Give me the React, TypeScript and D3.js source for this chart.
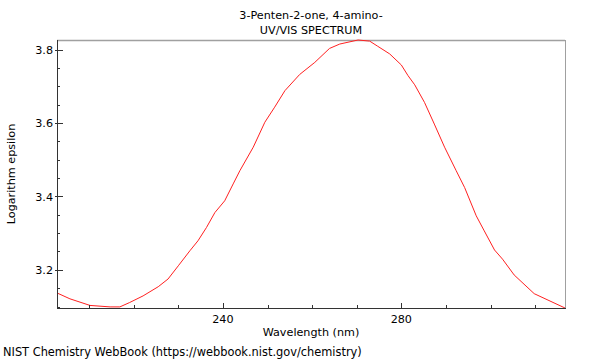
import React from "react";
import * as d3 from "d3";

const title1 = "3-Penten-2-one, 4-amino-";
const title2 = "UV/VIS SPECTRUM";
const xLabel = "Wavelength (nm)";
const yLabel = "Logarithm epsilon";
const footer = "NIST Chemistry WebBook (https://webbook.nist.gov/chemistry)";

const wavelengths = [
  202.8, 205.7, 210.2, 214.7, 216.9, 219.1, 222.1, 225.5, 227.7, 230.0, 232.6,
  234.4, 236.3, 238.2, 240.4, 242.3, 243.8, 246.8, 249.4, 251.6, 253.9, 257.2,
  260.6, 263.9, 266.2, 270.3, 272.9, 274.7, 277.4, 280.0, 281.5, 283.0, 285.2,
  287.4, 289.7, 292.3, 294.2, 296.8, 298.6, 300.9, 302.7, 305.3, 309.8, 316.7,
];
const logEps = [
  3.137, 3.121, 3.103, 3.099, 3.099, 3.111, 3.129, 3.154, 3.175, 3.211, 3.252,
  3.279, 3.315, 3.356, 3.388, 3.434, 3.47, 3.534, 3.602, 3.643, 3.688, 3.732,
  3.765, 3.803, 3.815, 3.826, 3.823, 3.809, 3.788, 3.758, 3.729, 3.704, 3.656,
  3.597, 3.534, 3.47, 3.424, 3.347, 3.306, 3.254, 3.229, 3.186, 3.135, 3.096,
];
const xMajorTicks = [240, 280];
const xMinorTicks = [210, 220, 230, 250, 260, 270, 290, 300, 310];
const yMajorTicks = [3.2, 3.4, 3.6, 3.8];
const yMinorTicks = [3.1, 3.15, 3.25, 3.3, 3.35, 3.45, 3.5, 3.55, 3.65, 3.7, 3.75];

const W = 600;
const H = 360;
const L = 57, R = 565, T = 40, B = 308;
const font = "DejaVu Sans, sans-serif";
const FS = 11.2;

export default function App() {
  const x = d3.scaleLinear().domain(d3.extent(wavelengths) as [number, number]).range([L, R]);
  const y = d3.scaleLinear().domain(d3.extent(logEps) as [number, number]).range([B, T]);
  const pts = wavelengths.map((w, i) => [w, logEps[i]] as [number, number]);
  const line = d3.line<[number, number]>().x((d) => x(d[0])).y((d) => y(d[1]));
  const axisColor = "#333";
  return (
    <svg width={W} height={H} style={{ position: "absolute", left: 0, top: 0 }} fontFamily={font}>
      <rect width={W} height={H} fill="#fff" />
      <text x={(L + R) / 2} y={18.5} fontSize={FS} textAnchor="middle">{title1}</text>
      <text x={(L + R) / 2} y={33.5} fontSize={FS} textAnchor="middle">{title2}</text>
      <line x1={L} x2={R} y1={T + 0.5} y2={T + 0.5} stroke="#a0a0a0" strokeWidth={1.5} />
      <line x1={R + 0.5} x2={R + 0.5} y1={T} y2={B} stroke="#a0a0a0" strokeWidth={1} />
      <path d={line(pts) || ""} fill="none" stroke="#ff2020" strokeWidth={1} />
      <line x1={L + 0.5} x2={L + 0.5} y1={T} y2={B + 0.5} stroke={axisColor} />
      <line x1={L} x2={R + 1} y1={B + 0.5} y2={B + 0.5} stroke={axisColor} />
      {xMajorTicks.map((t) => (
        <g key={"xm" + t}>
          <line x1={Math.round(x(t)) + 0.5} x2={Math.round(x(t)) + 0.5} y1={B} y2={B - 5} stroke={axisColor} />
          <text x={x(t)} y={323} fontSize={FS} textAnchor="middle">{t}</text>
        </g>
      ))}
      {xMinorTicks.map((t) => (
        <line key={"xn" + t} x1={Math.round(x(t)) + 0.5} x2={Math.round(x(t)) + 0.5} y1={B} y2={B - 3} stroke={axisColor} />
      ))}
      {yMajorTicks.map((t) => (
        <g key={"ym" + t}>
          <line x1={L - 2} x2={L + 6} y1={Math.round(y(t)) + 0.5} y2={Math.round(y(t)) + 0.5} stroke={axisColor} />
          <text x={L - 4} y={y(t) + 4.2} fontSize={FS} textAnchor="end">{t.toFixed(1)}</text>
        </g>
      ))}
      {yMinorTicks.map((t) => (
        <line key={"yn" + t} x1={L} x2={L + 3} y1={Math.round(y(t)) + 0.5} y2={Math.round(y(t)) + 0.5} stroke={axisColor} />
      ))}
      <text x={(L + R) / 2} y={336} fontSize={FS} textAnchor="middle">{xLabel}</text>
      <text transform={`translate(15,${(T + B) / 2}) rotate(-90)`} fontSize={FS} textAnchor="middle">{yLabel}</text>
      <text x={3} y={356} fontSize={11.4}>{footer}</text>
    </svg>
  );
}
